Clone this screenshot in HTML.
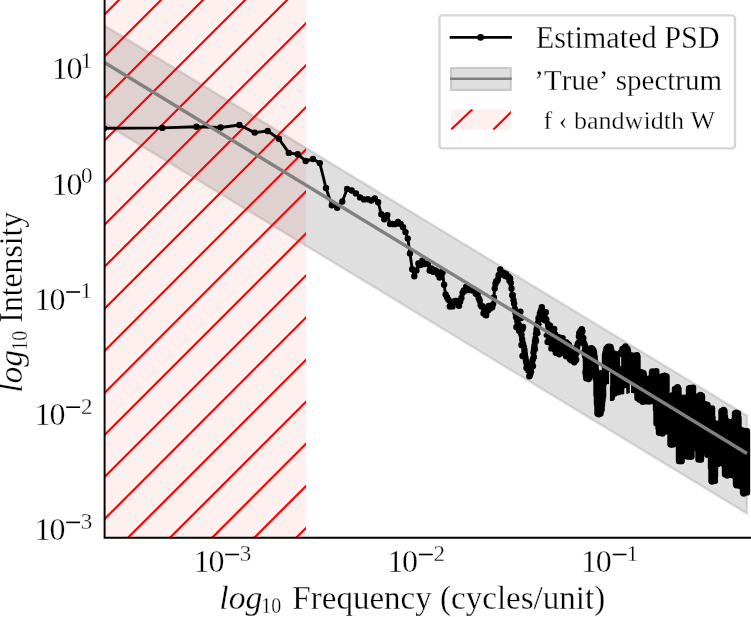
<!DOCTYPE html>
<html><head><meta charset="utf-8"><style>html,body{margin:0;padding:0;background:#fff;width:751px;height:617px;overflow:hidden}svg{display:block}svg{will-change:transform}text{stroke:#fff;stroke-width:0.3px;font-kerning:none}</style></head>
<body><svg width="751" height="617" viewBox="0 0 751 617">
<defs>
<clipPath id="ax"><rect x="104.6" y="0" width="646.4" height="537.5"/></clipPath>
<clipPath id="span"><rect x="104.6" y="0" width="201.50000000000003" height="537.5"/></clipPath>
<clipPath id="lg3"><rect x="450.8" y="109.3" width="60.1" height="20.5"/></clipPath>
</defs>
<rect width="751" height="617" fill="#fff"/>
<g clip-path="url(#ax)">
<path d="M104 25.4L747.0 415.8L747.0 513.5L104 123Z" fill="#808080" fill-opacity="0.25" stroke="#808080" stroke-opacity="0.25" stroke-width="2.4"/>
<rect x="104.6" y="0" width="201.50000000000003" height="537.5" fill="#ff0000" fill-opacity="0.06"/>
<path clip-path="url(#span)" d="M-607.3 600L2.7 -10M-565.2 600L44.8 -10M-523.2 600L86.8 -10M-481.1 600L128.9 -10M-439 600L171 -10M-397 600L213 -10M-354.9 600L255.1 -10M-312.9 600L297.1 -10M-270.8 600L339.2 -10M-228.7 600L381.3 -10M-186.7 600L423.3 -10M-144.6 600L465.4 -10M-102.6 600L507.4 -10M-60.5 600L549.5 -10M-18.4 600L591.6 -10M23.6 600L633.6 -10M65.7 600L675.7 -10M107.7 600L717.7 -10M149.8 600L759.8 -10M191.9 600L801.9 -10M233.9 600L843.9 -10" stroke="#ff0000" stroke-width="2.15" fill="none"/>
<path d="M104 128.3 L162.3 127.9 L196.4 126.8 L220.6 127.5 L239.4 125 L254.7 132.6 L267.7 131 L278.9 138.7 L288.8 152.9 L297.7 154.2 L305.7 161 L313 159 L319.8 163.1 L326 188 L331.8 205.2 L337.2 207.8 L342.3 201.5 L347.1 188.9 L351.7 190.5 L356 193.4 L360.1 197.4 L364 199.4 L367.8 199.3 L371.3 200.5 L374.8 198.5 L378.1 202.2 L381.3 214.3 L384.3 219.2 L387.3 215.1 L390.1 224 L392.9 224 L395.5 224 L398.1 222 L400.6 224 L403.1 227.3 L405.5 232.1 L407.8 238.6 L410 253.5 L412.2 269.3 L414.3 276.2 L416.4 270.4 L418.4 263.4 L420.4 265 L422.3 260.8 L424.2 264 L426.1 263.8 L427.9 264 L429.7 270.5 L431.4 268.4 L433.1 271.8 L434.8 270.3 L436.4 271.3 L438 274.2 L439.6 277.5 L441.1 272.3 L442.6 272.4 L444.1 284.8 L445.6 294.5 L447 297.2 L448.4 299.7 L449.8 306.5 L451.2 301.6 L452.5 306.4 L453.9 302.3 L455.2 300.9 L456.4 301 L457.7 302.4 L459 305.8 L460.2 301.5 L461.4 298 L462.6 292.7 L463.8 290.4 L464.9 290.8 L466.1 287 L467.2 286.4 L468.3 286.7 L469.4 290 L470.5 288.7 L471.6 288.2 L472.6 290.4 L473.7 290.1 L474.7 289.7 L475.7 293.5 L476.7 294.2 L477.7 293.8 L478.7 298.3 L479.7 300.4 L480.6 305 L481.6 306.5 L482.5 306.1 L483.5 313.2 L484.4 310.5 L485.3 314.7 L486.2 315.3 L487.1 309.8 L488 310.4 L488.8 306 L489.7 308.8 L490.6 308.2 L491.4 306.7 L492.2 307.3 L493.1 304.2 L493.9 297.4 L494.7 288.5 L495.5 283.8 L496.3 281.3 L497.1 281 L497.9 279.5 L498.6 275.4 L499.4 274.2 L500.2 269.5 L500.9 271.9 L501.7 272.4 L502.4 274.6 L503.2 274.6 L503.9 273 L504.6 274.1 L505.3 276.1 L506 273.9 L506.7 276.6 L507.4 276 L508.1 276.4 L508.8 276.9 L509.5 280.7 L510.2 278.5 L510.8 283 L511.5 288.4 L512.2 295.2 L512.8 295.2 L513.5 300 L514.1 303.5 L514.8 308.7 L515.4 312.7 L516 317.1 L516.6 318.1 L517.3 321.3 L517.9 323.7 L518.5 328.7 L519.1 330.8 L519.7 329.1 L520.3 331 L520.9 333 L521.5 334.8 L522.1 339.2 L522.7 342.9 L523.2 344.8 L523.8 346.7 L524.4 351.4 L524.9 354 L525.5 357.7 L526.1 361.9 L526.6 363.3 L527.2 364.9 L527.7 367.8 L528.3 370.5 L528.8 370.2 L529.3 376.3 L529.9 375.6 L530.4 373.5 L530.9 370.7 L531.5 366.4 L532 364 L532.5 360.2 L533 358.9 L533.5 352.4 L534 348.5 L534.5 345.2 L535 341.3 L535.5 338.5 L536 333.7 L536.5 330 L537 327.5 L537.5 324.3 L538 322.6 L538.5 318.2 L539 319.7 L539.4 317 L539.9 313.4 L540.4 312.3 L540.8 311.2 L541.3 309.7 L541.8 307.1 L542.2 310.3 L542.7 311 L543.2 315.3 L543.6 316.9 L544.1 317.8 L544.5 319.9 L545 318.1 L545.4 320.5 L545.8 312.2 L546.3 319.5 L546.7 334.8 L547.1 333.4 L547.6 342 L548 324.1 L548.4 334.5 L548.9 329.4 L549.3 337.6 L549.7 338.8 L550.1 325.6 L550.5 330.9 L551 332.8 L551.4 348.4 L551.8 345 L552.2 330.9 L552.6 346.4 L553 331.1 L553.4 342.7 L553.8 331.5 L554.2 328.9 L554.6 349.5 L555 334.4 L555.4 334.8 L555.8 352.7 L556.2 350.4 L556.6 337.4 L557 352.8 L557.3 343.7 L557.7 347 L558.1 337 L558.5 353.2 L558.9 348.1 L559.2 354.2 L559.6 352.9 L560 340.9 L560.4 342.6 L560.7 339.1 L561.1 339.1 L561.5 338 L561.8 342.8 L562.2 348.6 L562.6 338.3 L562.9 350.3 L563.3 344.7 L563.6 344.5 L564 353.2 L564.3 347.8 L564.7 345.4 L565 348.3 L565.4 351.9 L565.7 342.3 L566.1 356.3 L566.4 342.5 L566.8 353.2 L567.1 354.9 L567.5 343.5 L567.8 354.8 L568.1 349.2 L568.5 352.5 L568.8 344.8 L569.2 345.7 L569.5 347.9 L569.8 359.1 L570.1 348.8 L570.5 356.9 L570.8 359.7 L571.1 360.2 L571.5 352.1 L571.8 352.5 L572.1 355.2 L572.4 359 L572.7 349.5 L573.1 358.9 L573.4 359.7 L573.7 360.7 L574 348.7 L574.3 362.3 L574.6 349.3 L575 353 L575.3 356.5 L575.6 360.5 L575.9 352.1 L576.2 359.7 L576.5 353 L576.8 349 L577.1 348 L577.4 345.8 L577.7 344.3 L578 343.7 L578.3 343.2 L578.6 342.8 L578.9 336.5 L579.2 333.2 L579.5 342.6 L579.8 336.5 L580.1 334.3 L580.4 331.3 L580.7 336.4 L581 339.9 L581.3 333.6 L581.5 333.7 L581.8 329.1 L582.1 341.7 L582.4 331.2 L582.7 337.7 L583 341.5 L583.3 338 L583.5 341.9 L583.8 342.7 L584.1 344 L584.4 351.8 L584.7 344.8 L584.9 355.7 L585.2 349.2 L585.5 372.3 L585.8 355 L586 360.5 L586.3 378.3 L586.6 373.9 L586.8 378.2 L587.1 362 L587.4 363.5 L587.7 371.3 L587.9 363.3" stroke="#000" stroke-width="2.9" fill="none" stroke-linejoin="round"/>
<path d="M104 128.3h0 M162.3 127.9h0 M196.4 126.8h0 M220.6 127.5h0 M239.4 125h0 M254.7 132.6h0 M267.7 131h0 M278.9 138.7h0 M288.8 152.9h0 M297.7 154.2h0 M305.7 161h0 M313 159h0 M319.8 163.1h0 M326 188h0 M331.8 205.2h0 M337.2 207.8h0 M342.3 201.5h0 M347.1 188.9h0 M351.7 190.5h0 M356 193.4h0 M360.1 197.4h0 M364 199.4h0 M367.8 199.3h0 M371.3 200.5h0 M374.8 198.5h0 M378.1 202.2h0 M381.3 214.3h0 M384.3 219.2h0 M387.3 215.1h0 M390.1 224h0 M392.9 224h0 M395.5 224h0 M398.1 222h0 M400.6 224h0 M403.1 227.3h0 M405.5 232.1h0 M407.8 238.6h0 M410 253.5h0 M412.2 269.3h0 M414.3 276.2h0 M416.4 270.4h0 M418.4 263.4h0 M420.4 265h0 M422.3 260.8h0 M424.2 264h0 M426.1 263.8h0 M427.9 264h0 M429.7 270.5h0 M431.4 268.4h0 M433.1 271.8h0 M434.8 270.3h0 M436.4 271.3h0 M438 274.2h0 M439.6 277.5h0 M441.1 272.3h0 M442.6 272.4h0 M444.1 284.8h0 M445.6 294.5h0 M447 297.2h0 M448.4 299.7h0 M449.8 306.5h0 M451.2 301.6h0 M452.5 306.4h0 M453.9 302.3h0 M455.2 300.9h0 M456.4 301h0 M457.7 302.4h0 M459 305.8h0 M460.2 301.5h0 M461.4 298h0 M462.6 292.7h0 M463.8 290.4h0 M464.9 290.8h0 M466.1 287h0 M467.2 286.4h0 M468.3 286.7h0 M469.4 290h0 M470.5 288.7h0 M471.6 288.2h0 M472.6 290.4h0 M473.7 290.1h0 M474.7 289.7h0 M475.7 293.5h0 M476.7 294.2h0 M477.7 293.8h0 M478.7 298.3h0 M479.7 300.4h0 M480.6 305h0 M481.6 306.5h0 M482.5 306.1h0 M483.5 313.2h0 M484.4 310.5h0 M485.3 314.7h0 M486.2 315.3h0 M487.1 309.8h0 M488 310.4h0 M488.8 306h0 M489.7 308.8h0 M490.6 308.2h0 M491.4 306.7h0 M492.2 307.3h0 M493.1 304.2h0 M493.9 297.4h0 M494.7 288.5h0 M495.5 283.8h0 M496.3 281.3h0 M497.1 281h0 M497.9 279.5h0 M498.6 275.4h0 M499.4 274.2h0 M500.2 269.5h0 M500.9 271.9h0 M501.7 272.4h0 M502.4 274.6h0 M503.2 274.6h0 M503.9 273h0 M504.6 274.1h0 M505.3 276.1h0 M506 273.9h0 M506.7 276.6h0 M507.4 276h0 M508.1 276.4h0 M508.8 276.9h0 M509.5 280.7h0 M510.2 278.5h0 M510.8 283h0 M511.5 288.4h0 M512.2 295.2h0 M512.8 295.2h0 M513.5 300h0 M514.1 303.5h0 M514.8 308.7h0 M515.4 312.7h0 M516 317.1h0 M516.6 318.1h0 M517.3 321.3h0 M517.9 323.7h0 M518.5 328.7h0 M519.1 330.8h0 M519.7 329.1h0 M520.3 331h0 M520.9 333h0 M521.5 334.8h0 M522.1 339.2h0 M522.7 342.9h0 M523.2 344.8h0 M523.8 346.7h0 M524.4 351.4h0 M524.9 354h0 M525.5 357.7h0 M526.1 361.9h0 M526.6 363.3h0 M527.2 364.9h0 M527.7 367.8h0 M528.3 370.5h0 M528.8 370.2h0 M529.3 376.3h0 M529.9 375.6h0 M530.4 373.5h0 M530.9 370.7h0 M531.5 366.4h0 M532 364h0 M532.5 360.2h0 M533 358.9h0 M533.5 352.4h0 M534 348.5h0 M534.5 345.2h0 M535 341.3h0 M535.5 338.5h0 M536 333.7h0 M536.5 330h0 M537 327.5h0 M537.5 324.3h0 M538 322.6h0 M538.5 318.2h0 M539 319.7h0 M539.4 317h0 M539.9 313.4h0 M540.4 312.3h0 M540.8 311.2h0 M541.3 309.7h0 M541.8 307.1h0 M542.2 310.3h0 M542.7 311h0 M543.2 315.3h0 M543.6 316.9h0 M544.1 317.8h0 M544.5 319.9h0 M545 318.1h0 M545.4 320.5h0 M545.8 312.2h0 M546.3 319.5h0 M546.7 334.8h0 M547.1 333.4h0 M547.6 342h0 M548 324.1h0 M548.4 334.5h0 M548.9 329.4h0 M549.3 337.6h0 M549.7 338.8h0 M550.1 325.6h0 M550.5 330.9h0 M551 332.8h0 M551.4 348.4h0 M551.8 345h0 M552.2 330.9h0 M552.6 346.4h0 M553 331.1h0 M553.4 342.7h0 M553.8 331.5h0 M554.2 328.9h0 M554.6 349.5h0 M555 334.4h0 M555.4 334.8h0 M555.8 352.7h0 M556.2 350.4h0 M556.6 337.4h0 M557 352.8h0 M557.3 343.7h0 M557.7 347h0 M558.1 337h0 M558.5 353.2h0 M558.9 348.1h0 M559.2 354.2h0 M559.6 352.9h0 M560 340.9h0 M560.4 342.6h0 M560.7 339.1h0 M561.1 339.1h0 M561.5 338h0 M561.8 342.8h0 M562.2 348.6h0 M562.6 338.3h0 M562.9 350.3h0 M563.3 344.7h0 M563.6 344.5h0 M564 353.2h0 M564.3 347.8h0 M564.7 345.4h0 M565 348.3h0 M565.4 351.9h0 M565.7 342.3h0 M566.1 356.3h0 M566.4 342.5h0 M566.8 353.2h0 M567.1 354.9h0 M567.5 343.5h0 M567.8 354.8h0 M568.1 349.2h0 M568.5 352.5h0 M568.8 344.8h0 M569.2 345.7h0 M569.5 347.9h0 M569.8 359.1h0 M570.1 348.8h0 M570.5 356.9h0 M570.8 359.7h0 M571.1 360.2h0 M571.5 352.1h0 M571.8 352.5h0 M572.1 355.2h0 M572.4 359h0 M572.7 349.5h0 M573.1 358.9h0 M573.4 359.7h0 M573.7 360.7h0 M574 348.7h0 M574.3 362.3h0 M574.6 349.3h0 M575 353h0 M575.3 356.5h0 M575.6 360.5h0 M575.9 352.1h0 M576.2 359.7h0 M576.5 353h0 M576.8 349h0 M577.1 348h0 M577.4 345.8h0 M577.7 344.3h0 M578 343.7h0 M578.3 343.2h0 M578.6 342.8h0 M578.9 336.5h0 M579.2 333.2h0 M579.5 342.6h0 M579.8 336.5h0 M580.1 334.3h0 M580.4 331.3h0 M580.7 336.4h0 M581 339.9h0 M581.3 333.6h0 M581.5 333.7h0 M581.8 329.1h0 M582.1 341.7h0 M582.4 331.2h0 M582.7 337.7h0 M583 341.5h0 M583.3 338h0 M583.5 341.9h0 M583.8 342.7h0 M584.1 344h0 M584.4 351.8h0 M584.7 344.8h0 M584.9 355.7h0 M585.2 349.2h0 M585.5 372.3h0 M585.8 355h0 M586 360.5h0 M586.3 378.3h0 M586.6 373.9h0 M586.8 378.2h0 M587.1 362h0 M587.4 363.5h0 M587.7 371.3h0 M587.9 363.3h0 M520.4 311.8h0 M517.4 320.9h0 M516.4 327h0 M522.5 329h0 M517 316h0 M521 318h0 M519 325h0 M523 327h0 M521.5 345h0 M524.5 350h0 M522.5 356h0 M526 361h0 M526.5 368h0 M531 372h0 M533 366h0 M533.8 357h0 M535 349h0 M536 341h0 M537.5 333h0 M539 326h0 M540 318h0 M587.9 349.2h0 M588.5 379.1h0 M591.3 348.2h0 M591.2 373.7h0 M594.3 357.3h0 M594.3 373.3h0 M597.6 375h0 M598.8 414.2h0 M601.1 373.2h0 M601.6 409.4h0 M604.1 373.3h0 M604.3 392h0 M608 346.9h0 M608 391.6h0 M610.9 349.5h0 M611.7 397.8h0 M614.3 353.6h0 M614.3 393.7h0 M618 354.7h0 M618 392.1h0 M621.1 352.3h0 M622.2 391.2h0 M625.4 346.5h0 M625.6 390.6h0 M627.9 353.2h0 M629 390h0 M630.8 355.3h0 M630.6 389.9h0 M634 355.8h0 M633.6 390h0 M636.9 355.2h0 M636.6 390.9h0 M640.2 372h0 M639.4 399.4h0 M642.4 372.7h0 M642.7 401.8h0 M645.9 379.3h0 M646.6 401.4h0 M648.7 379h0 M649.3 401.6h0 M652.4 371.4h0 M653.1 401.1h0 M656.3 371.2h0 M655.4 402.6h0 M659.1 382.5h0 M659.7 432.7h0 M662.8 380.6h0 M662.4 433.6h0 M664.4 375.9h0 M664.7 430.5h0 M668.3 397.6h0 M667.7 431.5h0 M670.8 397.1h0 M671.4 444.5h0 M674.4 394.9h0 M674.3 439.6h0 M677.6 387.3h0 M677.2 438.9h0 M680.5 397.4h0 M681.4 461.1h0 M684.5 397.8h0 M683.9 448.5h0 M687.4 398h0 M687.5 449h0 M690.3 387.9h0 M690.1 456.6h0 M693 387.7h0 M693.5 447.3h0 M696.8 397.5h0 M696.2 447.4h0 M700.5 395h0 M700.4 459.6h0 M703.5 403.9h0 M703.5 445.1h0 M706.2 405h0 M706.5 444.9h0 M709.4 409.3h0 M709.1 455.1h0 M712.1 408.4h0 M712 481.6h0 M715 424h0 M714.9 480.8h0 M717 423.6h0 M717.8 464h0 M720.9 424.3h0 M720.4 462.8h0 M723.6 409.9h0 M723.3 462.9h0 M727.6 421.5h0 M727.2 475.5h0 M729.9 422.3h0 M730.3 474.8h0 M733.4 421.1h0 M733.6 475.6h0 M736.4 412.8h0 M736.5 485.2h0 M740.7 429.6h0 M739.6 485.7h0 M743.2 430.6h0 M743.8 493.6h0" stroke="#000" stroke-width="6.4" stroke-linecap="round" fill="none"/>
<path d="M586 347.8V376.1 M586.5 348.5V376.8 M587 349.2V377.4 M587.5 350V378 M588 350V378.1 M588.5 350V378.2 M589 350V378.3 M589.5 350V377.6 M590 350V375.3 M590.5 350V373 M591 349.8V373 M591.5 349.5V373 M592 349.2V373 M592.5 349V373 M593 349.7V373 M593.5 350.8V373 M594 352V373 M594.5 356.3V373 M595 360.7V373 M595.5 365V373 M596 370V379.3 M596.5 375V395 M597 375V404.3 M597.5 375V413.6 M598 375V413.6 M598.5 375V413.6 M599 375V413.6 M599.5 375V413.6 M600 375V413.6 M600.5 375V413.6 M601 375V410.7 M601.5 375V407.9 M602 375V405 M602.5 375V400.3 M603 375V395.7 M603.5 375V391 M604 375V391 M604.5 375V391 M605 355V391 M605.5 352.8V391 M606 350.7V391 M606.5 348.5V391 M607 348.2V391 M607.5 347.8V391 M608 347.5V391 M608.5 347.2V392.1 M609 346.8V394.8 M609.5 346.9V397.5 M610 346.9V397.5 M610.5 347V397.5 M611 349V397.5 M611.5 351V397.5 M612 353V394.8 M612.5 355V392 M613 355V392 M613.5 355V392 M614 355V392 M614.5 355V392 M615 355V392 M615.5 355V392 M616 355V392 M616.5 355V392 M617 355V392 M617.5 355V392 M618 355V392 M618.5 355V392 M619 355V391.3 M619.5 355V390.6 M620 355V390.2 M620.5 355V390.2 M621 355V390.2 M621.5 355V390.2 M622 352V390.2 M622.5 349V390.2 M623 348.8V390.2 M623.5 348.6V390.2 M624 348.4V390.2 M624.5 348.2V390.2 M625 348.1V390.2 M625.5 348.2V390.2 M626 348.4V390.2 M626.5 348.5V390.2 M627 348.7V390.2 M627.5 348.9V390.2 M628 350.8V390 M628.5 355.2V389.5 M629 356.9V389.5 M629.5 356.9V389.5 M630 356.9V389.5 M630.5 356.9V389.5 M631 356.9V389.5 M631.5 356.9V389.5 M632 356.9V389.5 M632.5 356.8V389.5 M633 356.8V389.5 M633.5 356.8V389.5 M634 356.8V389.5 M634.5 356.8V389.5 M635 356.8V389.5 M635.5 356.8V389.5 M636 356.8V389.5 M636.5 356.8V389.5 M637 356.8V391.9 M637.5 356.8V398 M638 372V398.3 M638.5 372.1V398.6 M639 372.2V398.8 M639.5 372.3V399.1 M640 372.4V399.4 M640.5 372.5V399.6 M641 372.6V399.9 M641.5 372.7V400.2 M642 372.8V400.2 M642.5 372.9V400.2 M643 373V400.2 M643.5 373.1V400.2 M644 375.3V400.2 M644.5 380.6V400.2 M645 380.6V400.2 M645.5 380.6V400.2 M646 380.6V400.2 M646.5 380.6V400.2 M647 380.6V400.2 M647.5 380.6V400.2 M648 380.6V400.2 M648.5 380.6V400.2 M649 380.6V400.2 M649.5 380.6V400.2 M650 380.6V400.2 M650.5 380.6V400.2 M651 380.6V400.2 M651.5 376.6V400.2 M652 372.5V400.2 M652.5 372.4V400.2 M653 372.3V400.2 M653.5 372.2V400.2 M654 372.1V400.2 M654.5 372V400.2 M655 372.3V400.2 M655.5 372.5V400.2 M656 372.8V409.5 M656.5 374.8V423.5 M657 384V423.5 M657.5 384V423.5 M658 384V423.5 M658.5 384V428.1 M659 384V432.6 M659.5 384V432.6 M660 384V432.6 M660.5 384V432.6 M661 384V432.6 M661.5 384V432.6 M662 384V432.6 M662.5 376.3V432.6 M663 376.2V432.6 M663.5 376.1V430 M664 376V430 M664.5 375.9V430 M665 376V430 M665.5 376.2V430 M666 376.3V430 M666.5 376.5V430 M667 398V430 M667.5 398.2V430 M668 398.3V430 M668.5 398.5V430 M669 398.5V430 M669.5 398.5V430 M670 398.5V430 M670.5 398.5V444.2 M671 398.5V444.2 M671.5 398.5V444.2 M672 395.8V444.2 M672.5 395.3V444.2 M673 395.2V444.2 M673.5 395.1V444.2 M674 395.1V437.8 M674.5 395V437.8 M675 389V437.8 M675.5 389V437.8 M676 389V437.8 M676.5 389V437.8 M677 389V437.8 M677.5 389V437.8 M678 389V437.8 M678.5 389V437.8 M679 398.5V461.1 M679.5 398.5V461.1 M680 398.5V461.1 M680.5 398.5V461.1 M681 398.5V461.1 M681.5 398.5V461.1 M682 398.5V457.5 M682.5 398.5V446.8 M683 398.5V446.8 M683.5 398.5V446.8 M684 398.5V446.8 M684.5 398.5V446.8 M685 398.5V446.8 M685.5 398.5V446.8 M686 398.5V446.8 M686.5 398.5V446.8 M687 398.5V449.3 M687.5 398.5V456.6 M688 398.5V456.6 M688.5 396.8V456.6 M689 388.5V456.6 M689.5 388.5V456.6 M690 388.4V456.6 M690.5 388.4V456.6 M691 388.4V456.6 M691.5 388.3V456.6 M692 388.3V446.8 M692.5 388.2V446.8 M693 388.2V446.8 M693.5 397.7V446.8 M694 397.7V446.8 M694.5 397.7V446.8 M695 397.7V446.8 M695.5 397.7V446.8 M696 397.7V446.8 M696.5 397.7V446.8 M697 397.6V446.8 M697.5 397.6V446.8 M698 397.5V450 M698.5 396.8V459.4 M699 396V459.4 M699.5 396V459.4 M700 396V459.4 M700.5 396V459.4 M701 396V459.4 M701.5 396V451.9 M702 396V444.4 M702.5 405V444.4 M703 405V444.4 M703.5 405V444.4 M704 405V444.4 M704.5 405V444.4 M705 405V444.4 M705.5 405V444.4 M706 405V444.4 M706.5 405V444.4 M707 405V447 M707.5 405V454.8 M708 408.4V454.8 M708.5 410.1V454.8 M709 410.1V454.8 M709.5 410.1V454.8 M710 410.1V454.8 M710.5 410.1V454.8 M711 410.1V467.8 M711.5 410.1V480.7 M712 410.1V480.7 M712.5 417.5V480.7 M713 424.9V480.7 M713.5 424.9V480.7 M714 424.9V480.7 M714.5 424.9V480.7 M715 424.9V476.2 M715.5 424.9V462.6 M716 424.9V462.6 M716.5 424.9V462.6 M717 424.9V462.6 M717.5 424.9V462.6 M718 424.9V462.6 M718.5 424.9V462.6 M719 424.9V462.6 M719.5 424.9V462.6 M720 424.9V462.6 M720.5 424.9V462.6 M721 424.9V462.6 M721.5 411.3V462.6 M722 411.3V462.6 M722.5 411.3V462.6 M723 411.3V462.6 M723.5 411.3V462.6 M724 411.3V462.6 M724.5 411.3V465.5 M725 417V474.3 M725.5 422.6V474.3 M726 422.6V474.3 M726.5 422.6V474.3 M727 422.6V474.3 M727.5 422.6V474.3 M728 422.6V474.3 M728.5 422.6V474.3 M729 422.6V474.3 M729.5 422.6V474.3 M730 422.6V474.3 M730.5 422.6V474.3 M731 422.6V474.3 M731.5 422.6V474.3 M732 422.6V474.3 M732.5 422.6V474.3 M733 422.6V474.3 M733.5 422.6V474.3 M734 422.6V474.3 M734.5 422.6V474.3 M735 413.5V474.3 M735.5 413.5V476.7 M736 413.5V484 M736.5 413.5V484 M737 413.5V484 M737.5 413.5V484 M738 413.5V484 M738.5 417.8V484 M739 430.6V484 M739.5 430.6V484 M740 430.6V484 M740.5 430.6V484 M741 430.6V484 M741.5 430.6V484 M742 430.9V484 M742.5 431.1V484 M743 431.1V492.4 M743.5 431.1V492.4 M744 431.1V492.4 M744.5 431.1V492.4 M745 431.1V492.4 M745.5 431.1V492.4 M746 431.1V492.4 M746.5 431.1V492.4 M747 431.1V492.4" stroke="#000" stroke-width="6.4" stroke-linecap="round" fill="none"/>
<g fill="#dfdfdf"><ellipse cx="542.9" cy="329.4" rx="2.5" ry="5"/><rect x="606.3" y="384" width="3.6" height="20" rx="1.8"/><rect x="609.1" y="372" width="1.1" height="14"/><rect x="620.1" y="357" width="1.1" height="9"/><rect x="629.8" y="384" width="1.2" height="12"/><rect x="624.3" y="388" width="2" height="9" rx="1"/></g>
<path d="M104 62.3L747.0 453.5" stroke="#808080" stroke-width="3.4" fill="none"/>
</g>
<path d="M104.6 0V538.7M103.6 537.7H751" stroke="#000" stroke-width="1.95" fill="none"/>
<text font-family="Liberation Serif" font-size="32" x="51.65" y="79.40">1</text><text font-family="Liberation Serif" font-size="32" x="66.50" y="79.40">0</text><text font-family="Liberation Serif" font-size="23" x="80.63" y="68.20">1</text>
<text font-family="Liberation Serif" font-size="32" x="51.65" y="194.60">1</text><text font-family="Liberation Serif" font-size="32" x="66.50" y="194.60">0</text><text font-family="Liberation Serif" font-size="23" x="80.95" y="183.40">0</text>
<text font-family="Liberation Serif" font-size="32" x="34.55" y="309.80">1</text><text font-family="Liberation Serif" font-size="32" x="49.40" y="309.80">0</text><rect x="66.20" y="291.20" width="13.9" height="1.6" fill="#000"/><text font-family="Liberation Serif" font-size="23" x="80.43" y="298.40">1</text>
<text font-family="Liberation Serif" font-size="32" x="34.55" y="425.00">1</text><text font-family="Liberation Serif" font-size="32" x="49.40" y="425.00">0</text><rect x="66.20" y="406.40" width="13.9" height="1.6" fill="#000"/><text font-family="Liberation Serif" font-size="23" x="80.88" y="413.60">2</text>
<text font-family="Liberation Serif" font-size="32" x="34.55" y="540.20">1</text><text font-family="Liberation Serif" font-size="32" x="49.40" y="540.20">0</text><rect x="66.20" y="521.60" width="13.9" height="1.6" fill="#000"/><text font-family="Liberation Serif" font-size="23" x="80.65" y="528.80">3</text>
<text font-family="Liberation Serif" font-size="32" x="193.55" y="572.30">1</text><text font-family="Liberation Serif" font-size="32" x="208.40" y="572.30">0</text><rect x="225.20" y="553.70" width="13.9" height="1.6" fill="#000"/><text font-family="Liberation Serif" font-size="23" x="239.65" y="560.90">3</text>
<text font-family="Liberation Serif" font-size="32" x="387.25" y="572.30">1</text><text font-family="Liberation Serif" font-size="32" x="402.10" y="572.30">0</text><rect x="418.90" y="553.70" width="13.9" height="1.6" fill="#000"/><text font-family="Liberation Serif" font-size="23" x="433.58" y="560.90">2</text>
<text font-family="Liberation Serif" font-size="32" x="580.95" y="572.30">1</text><text font-family="Liberation Serif" font-size="32" x="595.80" y="572.30">0</text><rect x="612.60" y="553.70" width="13.9" height="1.6" fill="#000"/><text font-family="Liberation Serif" font-size="23" x="626.83" y="560.90">1</text>
<text font-family="Liberation Serif" font-style="italic" font-size="33" transform="translate(219.31 608.80) scale(1.0191 1)">log</text><text font-family="Liberation Serif" font-size="23" transform="translate(261.24 613.40) scale(0.8705 1)">10</text><text font-family="Liberation Serif" font-size="33" transform="translate(292.35 608.80) scale(1.0014 1)">Frequency (cycles/unit)</text>
<text font-family="Liberation Serif" font-style="italic" font-size="33" transform="translate(21.90 392.79) rotate(-90) scale(1.0191 1)">log</text><text font-family="Liberation Serif" font-size="23" transform="translate(26.50 350.86) rotate(-90) scale(0.8705 1)">10</text><text font-family="Liberation Serif" font-size="33" transform="translate(21.90 322.64) rotate(-90) scale(0.9592 1)">Intensity</text>
<rect x="439.45" y="15.4" width="295.55" height="133" rx="3" fill="#fff" fill-opacity="0.8" stroke="#cccccc" stroke-opacity="0.8" stroke-width="2.4"/>
<path d="M449.7 37.4H511.9" stroke="#000" stroke-width="2.8"/>
<circle cx="480.6" cy="37.4" r="3.3" fill="#000"/>
<rect x="450.1" y="67.1" width="61.6" height="23.8" fill="#808080" fill-opacity="0.25"/>
<rect x="451.1" y="68.1" width="59.6" height="21.8" fill="none" stroke="#808080" stroke-opacity="0.25" stroke-width="2"/>
<path d="M450 78.8H511.7" stroke="#808080" stroke-width="2.4"/>
<rect x="450.8" y="109.3" width="60.1" height="20.5" fill="#ff0000" fill-opacity="0.06"/>
<path clip-path="url(#lg3)" d="M450.8 129.8L472.4 109.3M493.2 129.8L514 109.3" stroke="#ff0000" stroke-width="2.15"/>
<text font-family="Liberation Serif" font-size="30.5" transform="translate(535.83 48.00) scale(0.9910 1)">Estimated PSD</text>
<text font-family="Liberation Serif" font-size="30.5" transform="translate(534.35 89.60) scale(0.9518 1)">’True’ spectrum</text>
<text font-family="Liberation Serif" font-size="25.8" transform="translate(543.50 128.80) scale(1.0109 1)">f ‹ bandwidth W</text>
</svg></body></html>
